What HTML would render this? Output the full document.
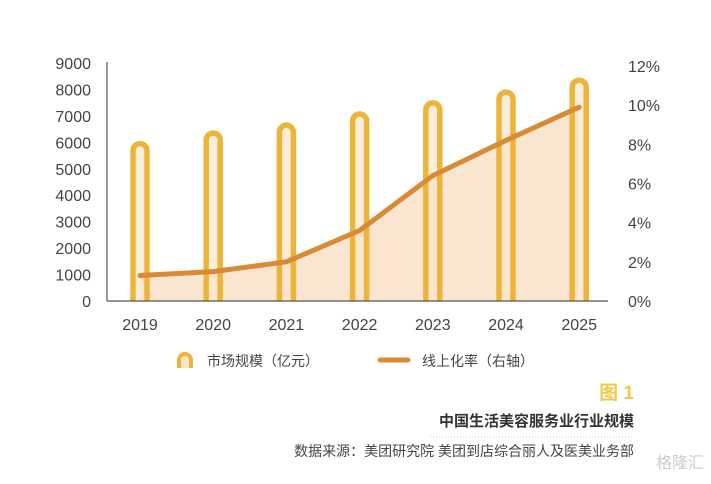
<!DOCTYPE html>
<html><head><meta charset="utf-8"><style>
body{margin:0;background:#fff;font-family:"Liberation Sans","Noto Sans CJK SC",sans-serif}
svg text{font-family:"Liberation Sans","Noto Sans CJK SC",sans-serif}
</style></head><body>
<svg id="c" width="711" height="479" viewBox="0 0 711 479">
<rect x="0" y="0" width="711" height="479" fill="#fff"/>
<g id="g"></g>
<line x1="107" y1="62" x2="107" y2="301" stroke="#555" stroke-width="1.2"/>
<line x1="107" y1="301" x2="608" y2="301" stroke="#555" stroke-width="1.2"/>
<g>
<path d="M179 368 V360 a6 6 0 0 1 12 0 V368" fill="#fbe3c4" stroke="#ecb53a" stroke-width="4"/>
<text x="207" y="366" font-size="14" fill="#444">市场规模（亿元）</text>
</g>
<g>
<line x1="380" y1="360" x2="408" y2="360" stroke="#d98a35" stroke-width="5" stroke-linecap="round"/>
<text x="422" y="366" font-size="14" fill="#444">线上化率（右轴）</text>
</g>
<text x="634" y="399" font-size="19" font-weight="bold" fill="#f2c94c" text-anchor="end">图 1</text>
<text x="634" y="426" font-size="15" font-weight="bold" fill="#333" text-anchor="end">中国生活美容服务业行业规模</text>
<line x1="430" y1="437" x2="634" y2="437" stroke="#ccc" stroke-dasharray="1 2"/>
<text x="634" y="456" font-size="14" fill="#444" text-anchor="end">数据来源：美团研究院  美团到店综合丽人及医美业务部</text>
<text x="704" y="468" font-size="16" fill="#ccc" text-anchor="end">格隆汇</text>
</svg>
<script>
const years=["2019","2020","2021","2022","2023","2024","2025"];
const marketSize=[5950,6350,6650,7070,7490,7900,8350];
const onlineRate=[1.3,1.5,2.0,3.6,6.4,8.2,9.9];
const leftTicks=[0,1000,2000,3000,4000,5000,6000,7000,8000,9000];
const rightTicks=[0,2,4,6,8,10,12];
const NS="http://www.w3.org/2000/svg";
const g=document.getElementById('g');
const x=i=>140+i*73.2;
const yL=v=>301-v*(238/9000);
const yR=v=>301-v*(235/12);
function mk(t,a){const e=document.createElementNS(NS,t);for(const k in a)e.setAttribute(k,a[k]);g.appendChild(e);return e;}
let d="M"+x(0)+" 301";
onlineRate.forEach((v,i)=>d+=" L"+x(i)+" "+yR(v));
d+=" L"+x(years.length-1)+" 301 Z";
const area=mk('path',{d:d,fill:"#f9e2c8","fill-opacity":"0.85"});


marketSize.forEach((v,i)=>{
 const cx=x(i),top=yL(v),r=7;
 const p=mk('path',{d:`M${cx-r} 301 V${top+r} a${r} ${r} 0 0 1 ${2*r} 0 V301`,fill:"#fbe6cc","fill-opacity":"0.7",stroke:"#ecb53a","stroke-width":"5.5"});
 
 
 const t=mk('text',{x:cx,y:330,"font-size":"16",fill:"#444","text-anchor":"middle"});
 t.textContent=years[i];
 
 
});
const pts=onlineRate.map((v,i)=>x(i)+","+yR(v)).join(" ");
const ln=mk('polyline',{points:pts,fill:"none",stroke:"#d98a35","stroke-width":"5","stroke-linecap":"round","stroke-linejoin":"round"});


leftTicks.forEach(v=>{
 const t=mk('text',{x:91,y:yL(v)+6,"font-size":"16",fill:"#444","text-anchor":"end"});
 t.textContent=v;
 
 
});
rightTicks.forEach(v=>{
 const t=mk('text',{x:628,y:yR(v)+6,"font-size":"16",fill:"#444"});
 t.textContent=v+"%";
 
 
});
</script>
</body></html>
